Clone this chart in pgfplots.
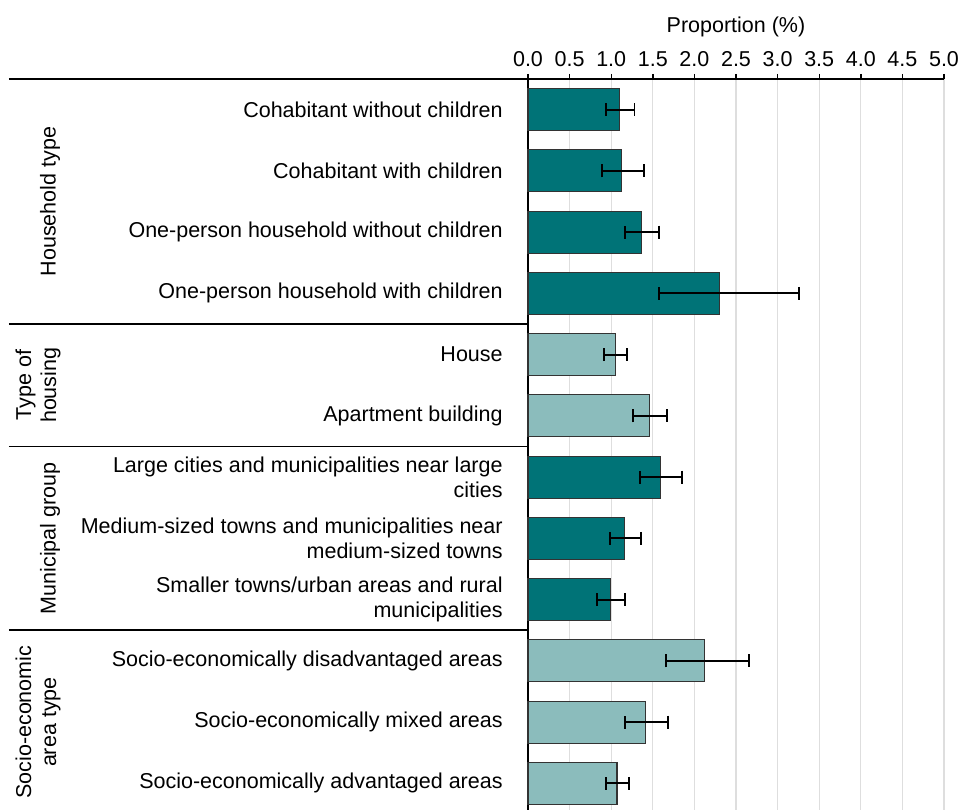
\documentclass[border=0pt]{standalone}
\usepackage{fontspec}
\setmainfont{Liberation Sans}
\usepackage{pgfplots}
\usepackage{pgfplotstable}
\pgfplotsset{compat=1.18}
\definecolor{dteal}{HTML}{007377}
\definecolor{lteal}{HTML}{8BBCBC}
\pgfplotstableread{
pos val em ep
12 1.10 0.16 0.18
11 1.12 0.23 0.27
10 1.36 0.19 0.21
9  2.30 0.73 0.96
6  1.59 0.24 0.26
5  1.16 0.17 0.20
4  0.99 0.16 0.18
}\darkdata
\pgfplotstableread{
pos val em ep
8  1.05 0.14 0.14
7  1.46 0.20 0.21
3  2.12 0.46 0.54
2  1.41 0.24 0.27
1  1.07 0.13 0.14
}\lightdata
\begin{document}
\fontsize{21.5}{25}\selectfont
\begin{tikzpicture}[font=\fontsize{21.5}{25}\selectfont]
\useasboundingbox (0,0) rectangle (963pt,-810pt);
\begin{axis}[
  at={(528pt,-79pt)}, anchor=north west,
  scale only axis, width=416pt, height=735pt,
  xmin=0, xmax=5, ymin=0.5, ymax=12.5,
  clip=false,
  axis x line=top, axis y line=left,
  axis line style={-, line width=1.6pt, black},
  xtick={0,0.5,1,1.5,2,2.5,3,3.5,4,4.5,5},
  xticklabel style={/pgf/number format/.cd, fixed, fixed zerofill, precision=1, assume math mode=true},
  tick align=outside, major tick length=5pt,
  x tick style={line width=1.4pt, black},
  ytick={1,...,12},
  ytick style={draw=none},
  yticklabels={
    {Socio-economically advantaged areas},
    {Socio-economically mixed areas},
    {Socio-economically disadvantaged areas},
    {Smaller towns/urban areas and rural\\municipalities},
    {Medium-sized towns and municipalities near\\medium-sized towns},
    {Large cities and municipalities near large\\cities},
    {Apartment building},
    {House},
    {One-person household with children},
    {One-person household without children},
    {Cohabitant with children},
    {Cohabitant without children}},
  yticklabel style={align=right, anchor=east, xshift=-13pt},
  xmajorgrids, grid style={black!13, line width=1.2pt},
  xlabel={Proportion (\%)},
  xbar, bar width=42pt, bar shift=0pt,
]
\addplot[fill=dteal, draw=black!80, line width=1.2pt,
  error bars/.cd, x dir=both, x explicit,
  error bar style={line width=1.8pt, solid, black},
  error mark options={rotate=90, line width=1.8pt, black, mark size=6.5pt}]
  table[x=val, y=pos, x error plus=ep, x error minus=em]{\darkdata};
\addplot[fill=lteal, draw=black!80, line width=1.2pt,
  error bars/.cd, x dir=both, x explicit,
  error bar style={line width=1.8pt, solid, black},
  error mark options={rotate=90, line width=1.8pt, black, mark size=6.5pt}]
  table[x=val, y=pos, x error plus=ep, x error minus=em]{\lightdata};
\draw[line width=1.6pt] ([xshift=-519pt]axis cs:0,12.5) -- (axis cs:0,12.5);
\draw[line width=1.6pt] ([xshift=-519pt]axis cs:0,8.5) -- (axis cs:0,8.5);
\draw[line width=1.6pt] ([xshift=-519pt]axis cs:0,6.5) -- (axis cs:0,6.5);
\draw[line width=1.6pt] ([xshift=-519pt]axis cs:0,3.5) -- (axis cs:0,3.5);
\node[rotate=90] at ([xshift=-478pt]axis cs:0,10.5) {Household type};
\node[rotate=90, align=center] at ([xshift=-490pt]axis cs:0,7.5) {Type of\\housing};
\node[rotate=90] at ([xshift=-478pt]axis cs:0,5) {Municipal group};
\node[rotate=90, align=center] at ([xshift=-490pt]axis cs:0,2) {Socio-economic\\area type};
\end{axis}
\end{tikzpicture}
\end{document}
